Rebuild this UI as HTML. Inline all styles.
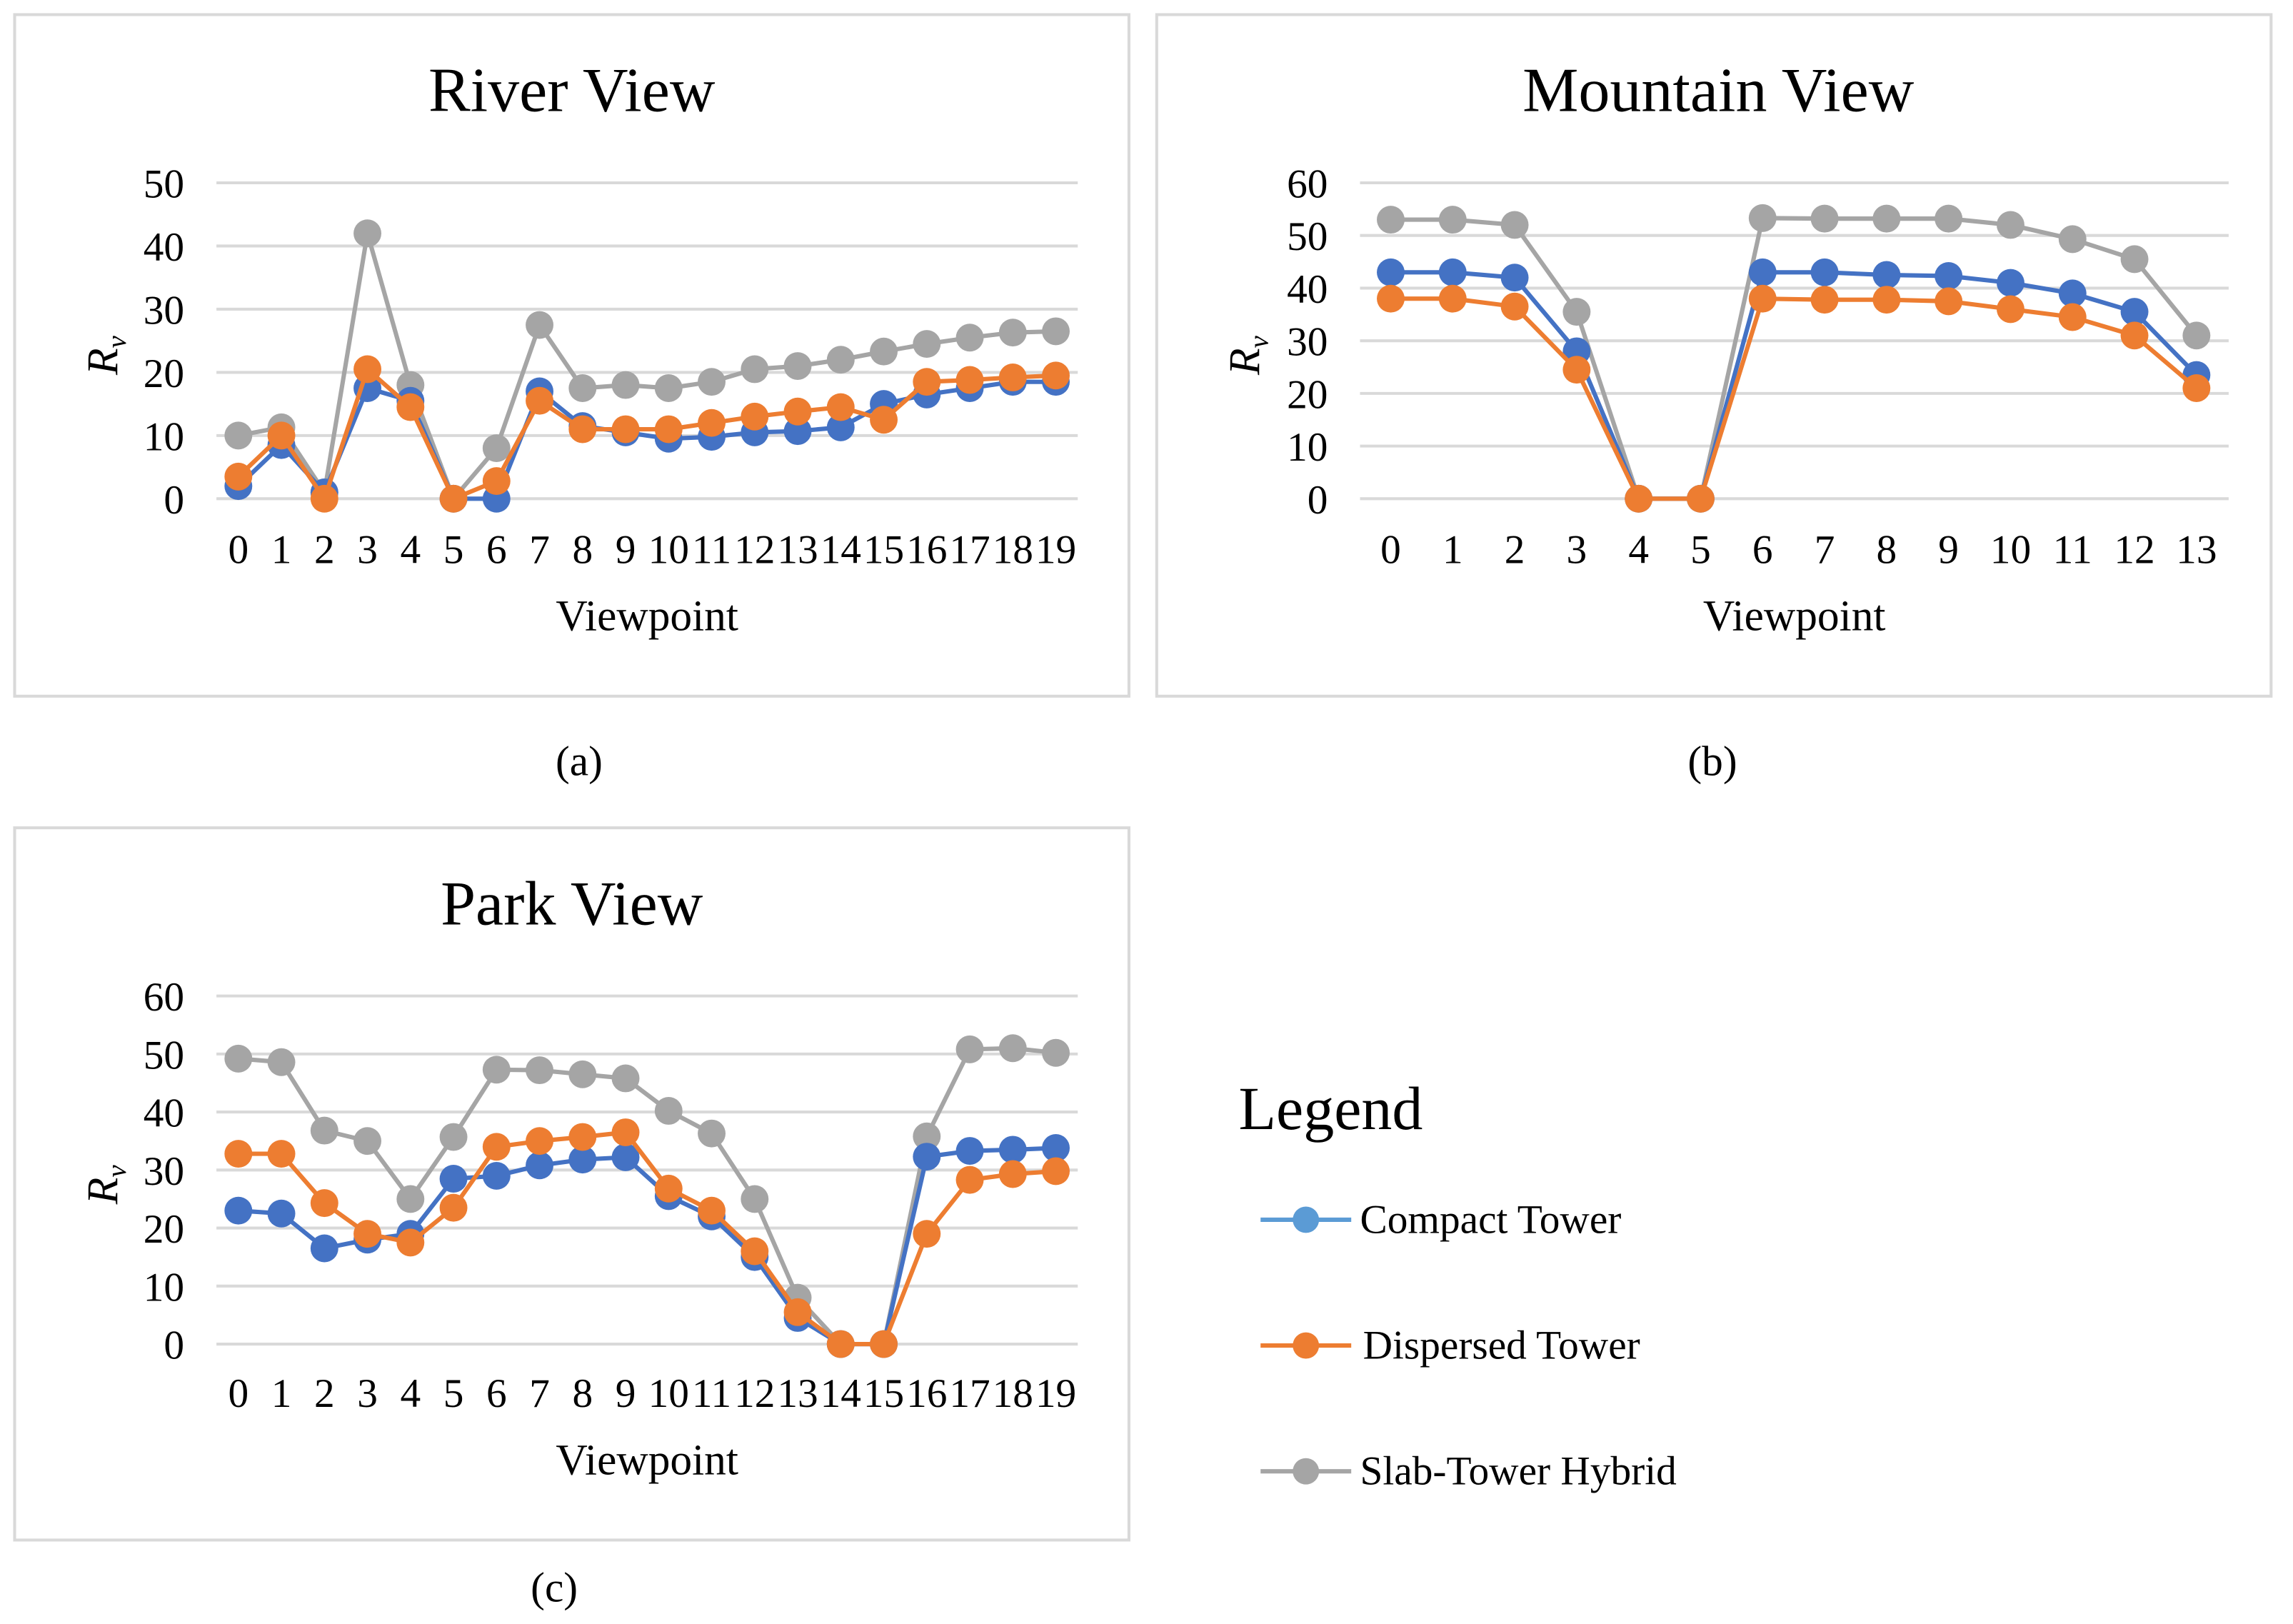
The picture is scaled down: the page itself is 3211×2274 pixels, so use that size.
<!DOCTYPE html>
<html><head><meta charset="utf-8"><style>
html,body{margin:0;padding:0;background:#fff;}
svg{display:block;font-family:"Liberation Serif",serif;}
</style></head><body>
<svg id="fig" width="3211" height="2274" viewBox="0 0 1568 1110.4" preserveAspectRatio="none" xmlns="http://www.w3.org/2000/svg">
<rect x="0" y="0" width="1568" height="1110.4" fill="#fff"/>
<g id="legend">
<text x="847" y="772" font-size="42" fill="#000">Legend</text>
<g><line x1="862" y1="834" x2="924" y2="834" stroke="#5B9BD5" stroke-width="3"/><circle cx="893" cy="834" r="9" fill="#5B9BD5"/><text x="930" y="843" font-size="28">Compact Tower</text></g>
<g><line x1="862" y1="920" x2="924" y2="920" stroke="#ED7D31" stroke-width="3"/><circle cx="893" cy="920" r="9" fill="#ED7D31"/><text x="932" y="929" font-size="28">Dispersed Tower</text></g>
<g><line x1="862" y1="1006" x2="924" y2="1006" stroke="#A5A5A5" stroke-width="3"/><circle cx="893" cy="1006" r="9" fill="#A5A5A5"/><text x="930" y="1015" font-size="28">Slab-Tower Hybrid</text></g>
</g>
</svg>
<script>
const riverCompact=[2,8.5,1,17.5,15.5,0,0,17,11.5,10.5,9.5,9.8,10.5,10.7,11.3,15,16.5,17.5,18.5,18.5];
const riverDispersed=[3.5,10,0,20.5,14.5,0,2.8,15.5,11,11,11,12,13,13.8,14.5,12.5,18.5,18.8,19.2,19.5];
const riverSlab=[10,11.3,1,42,18,0,8,27.5,17.5,18,17.5,18.5,20.5,21,22,23.3,24.5,25.5,26.3,26.5];
const riverTicks=[0,10,20,30,40,50];
const mountainCompact=[43,43,42,28,0,0,43,43,42.5,42.3,41,39,35.5,23.5];
const mountainDispersed=[38,38,36.5,24.5,0,0,38,37.8,37.8,37.5,36,34.5,31,21];
const mountainSlab=[53,53,52,35.5,0,0,53.3,53.2,53.2,53.2,52,49.3,45.5,31];
const mountainTicks=[0,10,20,30,40,50,60];
const parkCompact=[23,22.5,16.5,18,19,28.5,29,30.8,31.8,32.2,25.5,22,15,4.5,0,0,32.3,33.3,33.5,33.8];
const parkDispersed=[32.8,32.8,24.3,19,17.5,23.5,34,35,35.7,36.5,26.8,23,16,5.5,0,0,19,28.3,29.3,29.8];
const parkSlab=[49.2,48.6,36.8,35,25,35.7,47.3,47.2,46.5,45.8,40.2,36.3,25,8,0,0,35.8,50.8,51,50.2];
const parkTicks=[0,10,20,30,40,50,60];

const NS="http://www.w3.org/2000/svg";
const svg=document.getElementById('fig');
function mk(tag,attrs,parent){const e=document.createElementNS(NS,tag);for(const k in attrs)e.setAttribute(k,attrs[k]);parent.appendChild(e);return e;}
function chart(cfg){
  const g=mk('g',{},svg);
  
  
  const box=mk('rect',{x:cfg.bx,y:cfg.by,width:cfg.bw,height:cfg.bh,fill:'#fff',stroke:'#d9d9d9','stroke-width':2},g);
  
  
  const t=mk('text',{x:cfg.tx,y:cfg.ty,'font-size':43,'text-anchor':'middle'},g);t.textContent=cfg.title;
  
  
  const ymax=cfg.ticks[cfg.ticks.length-1];
  const ys=v=>cfg.y0+(cfg.yTop-cfg.y0)*v/ymax;
  const n=cfg.series[0].length;
  const xs=i=>cfg.x0+(cfg.x1-cfg.x0)*i/(n-1);
  cfg.ticks.forEach(v=>{
    const l=mk('line',{x1:cfg.gx0,x2:cfg.gx1,y1:ys(v),y2:ys(v),stroke:'#d9d9d9','stroke-width':2},g);
    
    
    const tl=mk('text',{x:cfg.gx0-22,y:ys(v)+10,'font-size':28,'text-anchor':'end'},g);tl.textContent=v;
    
    
  });
  for(let i=0;i<n;i++){
    const xl=mk('text',{x:xs(i),y:cfg.xly,'font-size':28,'text-anchor':'middle'},g);xl.textContent=i;
    
    
  }
  const xt=mk('text',{x:(cfg.gx0+cfg.gx1)/2,y:cfg.xly+46,'font-size':30,'text-anchor':'middle'},g);xt.textContent='Viewpoint';
  
  
  const yt=mk('text',{transform:`translate(${cfg.bx+70},${(ys(0)+ys(ymax))/2+10}) rotate(-90)`,'font-size':30,'font-style':'italic','text-anchor':'middle'},g);
  yt.innerHTML='R<tspan font-size="19" dy="6">v</tspan>';
  
  
  const colors=['#4472C4','#ED7D31','#A5A5A5'];
  const names=['compact-tower','dispersed-tower','slab-tower-hybrid'];
  [2,0,1].forEach(s=>{
    const d=cfg.series[s];
    const sg=mk('g',{},g);
    
    
    mk('polyline',{points:d.map((v,i)=>xs(i)+','+ys(v)).join(' '),fill:'none',stroke:colors[s],'stroke-width':3},sg);
    d.forEach((v,i)=>{
      const c=mk('circle',{cx:xs(i),cy:ys(v),r:9.5,fill:colors[s]},sg);
      
      
    });
  });
  const cap=mk('text',{x:cfg.capx,y:cfg.capy,'font-size':29,'text-anchor':'middle'},svg);cap.textContent=cfg.cap;
  
  
}
chart({name:'river-view-chart',bx:10,by:10,bw:762,bh:466,title:'River View',tx:391,ty:76,ticks:riverTicks,y0:341,yTop:125,gx0:148,gx1:737,x0:163,x1:722,xly:385,series:[riverCompact,riverDispersed,riverSlab],cap:'(a)',capx:396,capy:530});
chart({name:'mountain-view-chart',bx:791,by:10,bw:762,bh:466,title:'Mountain View',tx:1175,ty:76,ticks:mountainTicks,y0:341,yTop:125,gx0:930,gx1:1524,x0:951,x1:1502,xly:385,series:[mountainCompact,mountainDispersed,mountainSlab],cap:'(b)',capx:1171,capy:530});
chart({name:'park-view-chart',bx:10,by:566,bw:762,bh:487,title:'Park View',tx:391,ty:632,ticks:parkTicks,y0:919,yTop:681,gx0:148,gx1:737,x0:163,x1:722,xly:962,series:[parkCompact,parkDispersed,parkSlab],cap:'(c)',capx:379,capy:1095});
</script>
</body></html>
